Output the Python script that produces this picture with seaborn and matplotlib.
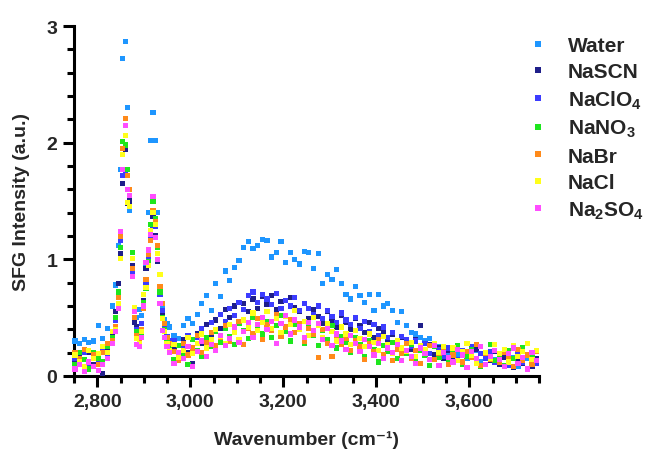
import numpy as np
import pandas as pd
import matplotlib
matplotlib.use("Agg")
import matplotlib.pyplot as plt
import seaborn as sns
from matplotlib.ticker import MultipleLocator, FixedLocator, FixedFormatter

# ---------------- data ----------------
series_names = ["Water", "NaSCN", "NaClO$_4$", "NaNO$_3$", "NaBr", "NaCl", "Na$_2$SO$_4$"]
series_colors = ["#1e96ff", "#1f1f8a", "#3c3cff", "#1ee61e", "#ff8a1a", "#ffff1a", "#ff4dff"]

# wavenumber grid (cm-1): coarse baseline, fine CH-stretch region, coarse OH region
wn_low = [2752, 2762, 2772, 2782, 2792, 2802, 2812, 2822, 2832]
wn_ch = [2840, 2845, 2850, 2855, 2860, 2865, 2870, 2875, 2880, 2885, 2890, 2895,
         2900, 2905, 2910, 2915, 2920, 2925, 2930, 2935, 2940, 2945, 2950, 2955]
wn_oh = list(range(2965, 3746, 10))
wavenumber = wn_low + wn_ch + wn_oh

water = ([0.30, 0.28, 0.31, 0.29, 0.30, 0.43, 0.32, 0.41, 0.60] +
         [0.78, 1.12, 1.77, 2.72, 2.87, 2.30, 1.42, 0.86, 0.59, 0.50, 0.57, 0.52,
          0.62, 0.95, 1.40, 2.02, 2.26, 2.02, 1.40, 0.76, 0.60, 0.48, 0.45, 0.42] +
         [0.35, 0.32, 0.43, 0.49, 0.45, 0.53, 0.62, 0.69, 0.56, 0.79,
          0.68, 0.90, 0.82, 0.93, 0.99, 1.10, 1.15, 1.09, 1.12, 1.17,
          1.16, 1.02, 1.06, 1.15, 0.97, 1.06, 1.00, 0.96, 1.07, 1.06,
          0.92, 1.05, 0.79, 0.87, 0.83, 0.91, 0.79, 0.70, 0.66, 0.77,
          0.69, 0.63, 0.70, 0.56, 0.70, 0.60, 0.62, 0.56, 0.46, 0.55,
          0.43, 0.37, 0.36, 0.33, 0.30, 0.32, 0.27, 0.25, 0.22, 0.20,
          0.24, 0.18, 0.21, 0.15, 0.19, 0.22, 0.12, 0.17, 0.20, 0.14,
          0.10, 0.18, 0.13, 0.16, 0.08, 0.12, 0.15, 0.10, 0.13])

nascn = ([0.12, 0.18, 0.05, 0.20, 0.10, 0.15, 0.02, 0.22, 0.35] +
         [0.55, 0.79, 1.05, 1.65, 1.94, 1.48, 1.50, 0.95, 0.46, 0.42, 0.33, 0.40,
          0.65, 0.92, 1.02, 1.25, 1.37, 1.20, 0.98, 0.62, 0.53, 0.39, 0.30, 0.25] +
         [0.25, 0.14, 0.31, 0.20, 0.11, 0.36, 0.28, 0.44, 0.33, 0.48,
          0.41, 0.57, 0.50, 0.60, 0.46, 0.62, 0.55, 0.66, 0.58, 0.68,
          0.61, 0.69, 0.57, 0.64, 0.52, 0.67, 0.59, 0.55, 0.62, 0.49,
          0.57, 0.51, 0.45, 0.55, 0.48, 0.42, 0.52, 0.46, 0.40, 0.49,
          0.43, 0.37, 0.46, 0.33, 0.41, 0.38, 0.30, 0.36, 0.27, 0.33,
          0.29, 0.23, 0.31, 0.43, 0.21, 0.27, 0.18, 0.24, 0.15, 0.22,
          0.17, 0.25, 0.12, 0.20, 0.16, 0.23, 0.09, 0.18, 0.13, 0.21,
          0.10, 0.16, 0.19, 0.07, 0.14, 0.11, 0.18, 0.08, 0.15])

naclo4 = ([0.15, 0.10, 0.20, 0.08, 0.17, 0.12, 0.22, 0.18, 0.30] +
          [0.48, 0.70, 1.16, 1.72, 1.76, 1.60, 1.45, 0.90, 0.50, 0.40, 0.36, 0.45,
           0.60, 0.80, 1.00, 1.18, 1.29, 1.28, 1.05, 0.70, 0.56, 0.44, 0.34, 0.30] +
          [0.30, 0.19, 0.26, 0.35, 0.23, 0.33, 0.41, 0.30, 0.46, 0.39,
           0.53, 0.47, 0.58, 0.52, 0.63, 0.57, 0.69, 0.72, 0.63, 0.70,
           0.66, 0.61, 0.71, 0.58, 0.65, 0.60, 0.67, 0.56, 0.62, 0.58,
           0.53, 0.60, 0.49, 0.56, 0.51, 0.46, 0.54, 0.48, 0.44, 0.50,
           0.41, 0.47, 0.38, 0.44, 0.35, 0.42, 0.33, 0.37, 0.29, 0.34,
           0.31, 0.25, 0.30, 0.22, 0.28, 0.19, 0.26, 0.23, 0.17, 0.24,
           0.20, 0.14, 0.22, 0.18, 0.25, 0.11, 0.19, 0.15, 0.21, 0.12,
           0.17, 0.22, 0.09, 0.15, 0.19, 0.12, 0.06, 0.16, 0.11])

nano3 = ([0.10, 0.20, 0.14, 0.06, 0.20, 0.15, 0.12, 0.25, 0.33] +
         [0.50, 0.72, 1.10, 2.01, 1.98, 1.77, 1.55, 1.06, 0.55, 0.38, 0.30, 0.36,
          0.63, 0.75, 0.98, 1.30, 1.50, 1.35, 1.10, 0.72, 0.50, 0.40, 0.30, 0.26] +
         [0.14, 0.26, 0.19, 0.10, 0.31, 0.22, 0.17, 0.33, 0.25, 0.38,
          0.29, 0.41, 0.34, 0.27, 0.45, 0.39, 0.32, 0.50, 0.41, 0.36,
          0.47, 0.33, 0.43, 0.52, 0.38, 0.30, 0.44, 0.40, 0.28, 0.42,
          0.35, 0.26, 0.39, 0.31, 0.43, 0.24, 0.34, 0.29, 0.20, 0.33,
          0.27, 0.17, 0.30, 0.23, 0.12, 0.26, 0.21, 0.29, 0.15, 0.24,
          0.19, 0.27, 0.13, 0.22, 0.18, 0.09, 0.25, 0.16, 0.21, 0.12,
          0.19, 0.26, 0.10, 0.17, 0.23, 0.14, 0.08, 0.20, 0.27, 0.13,
          0.17, 0.09, 0.22, 0.15, 0.11, 0.24, 0.06, 0.18, 0.13])

nabr = ([0.20, 0.15, 0.23, 0.12, 0.18, 0.10, 0.20, 0.28, 0.30] +
        [0.42, 0.67, 1.20, 1.95, 2.21, 1.72, 1.60, 0.92, 0.50, 0.35, 0.32, 0.40,
         0.58, 0.83, 1.04, 1.16, 1.42, 1.32, 1.12, 0.77, 0.62, 0.45, 0.33, 0.28] +
        [0.21, 0.13, 0.28, 0.18, 0.24, 0.35, 0.20, 0.29, 0.37, 0.26,
         0.33, 0.43, 0.30, 0.38, 0.47, 0.27, 0.41, 0.36, 0.49, 0.31,
         0.44, 0.39, 0.53, 0.34, 0.42, 0.48, 0.37, 0.45, 0.30, 0.41,
         0.36, 0.16, 0.40, 0.28, 0.17, 0.35, 0.27, 0.32, 0.22, 0.30,
         0.25, 0.14, 0.28, 0.21, 0.31, 0.18, 0.26, 0.13, 0.23, 0.19,
         0.28, 0.15, 0.22, 0.11, 0.20, 0.26, 0.14, 0.19, 0.24, 0.10,
         0.18, 0.23, 0.12, 0.21, 0.16, 0.27, 0.09, 0.19, 0.14, 0.22,
         0.12, 0.20, 0.16, 0.08, 0.23, 0.13, 0.18, 0.10, 0.21])

nacl = ([0.18, 0.12, 0.08, 0.22, 0.15, 0.19, 0.25, 0.20, 0.38] +
        [0.40, 0.62, 1.01, 1.90, 2.06, 1.49, 1.45, 1.01, 0.59, 0.32, 0.28, 0.38,
         0.70, 0.76, 0.95, 1.25, 1.40, 1.30, 1.05, 0.87, 0.49, 0.38, 0.28, 0.22] +
        [0.27, 0.16, 0.22, 0.33, 0.19, 0.28, 0.36, 0.24, 0.31, 0.40,
         0.34, 0.28, 0.44, 0.37, 0.31, 0.48, 0.42, 0.54, 0.39, 0.46,
         0.55, 0.41, 0.49, 0.37, 0.51, 0.44, 0.56, 0.40, 0.47, 0.35,
         0.50, 0.43, 0.33, 0.45, 0.38, 0.30, 0.42, 0.36, 0.27, 0.39,
         0.32, 0.25, 0.36, 0.29, 0.22, 0.34, 0.27, 0.19, 0.30, 0.24,
         0.21, 0.29, 0.17, 0.26, 0.23, 0.14, 0.28, 0.20, 0.25, 0.16,
         0.24, 0.13, 0.21, 0.28, 0.18, 0.11, 0.25, 0.20, 0.15, 0.27,
         0.19, 0.23, 0.12, 0.26, 0.17, 0.21, 0.28, 0.14, 0.22])

na2so4 = ([0.06, 0.10, 0.04, 0.12, 0.08, 0.05, 0.10, 0.15, 0.28] +
          [0.38, 0.58, 1.24, 1.77, 2.15, 1.60, 1.55, 0.85, 0.55, 0.27, 0.25, 0.33,
           0.60, 0.97, 1.08, 1.21, 1.54, 1.19, 1.00, 0.62, 0.39, 0.33, 0.25, 0.20] +
          [0.11, 0.20, 0.15, 0.25, 0.08, 0.21, 0.30, 0.17, 0.27, 0.22,
           0.35, 0.26, 0.32, 0.42, 0.29, 0.38, 0.46, 0.33, 0.44, 0.50,
           0.40, 0.47, 0.28, 0.45, 0.52, 0.36, 0.48, 0.42, 0.33, 0.46,
           0.39, 0.45, 0.31, 0.41, 0.26, 0.36, 0.30, 0.23, 0.35, 0.28,
           0.21, 0.31, 0.25, 0.18, 0.28, 0.15, 0.24, 0.20, 0.27, 0.13,
           0.22, 0.17, 0.11, 0.24, 0.19, 0.14, 0.26, 0.09, 0.20, 0.16,
           0.12, 0.23, 0.18, 0.07, 0.21, 0.15, 0.25, 0.10, 0.17, 0.22,
           0.14, 0.08, 0.19, 0.24, 0.11, 0.16, 0.06, 0.20, 0.13])

x_ticks = [2800, 3000, 3200, 3400, 3600]
x_tick_labels = ["2,800", "3,000", "3,200", "3,400", "3,600"]
y_ticks = [0, 1, 2, 3]
y_tick_labels = ["0", "1", "2", "3"]

# ---------------- build table ----------------
all_series = [water, nascn, naclo4, nano3, nabr, nacl, na2so4]
frames = []
for name, vals in zip(series_names, all_series):
    frames.append(pd.DataFrame({"Wavenumber": wavenumber, "Intensity": vals, "Sample": name}))
df = pd.concat(frames, ignore_index=True)

# ---------------- style ----------------
sns.set_theme(style="white")
plt.rcParams["font.family"] = ["Liberation Sans", "DejaVu Sans"]
plt.rcParams["font.weight"] = "bold"
plt.rcParams["mathtext.fontset"] = "custom"
plt.rcParams["mathtext.rm"] = "Liberation Sans:bold"
plt.rcParams["mathtext.bf"] = "Liberation Sans:bold"
plt.rcParams["mathtext.default"] = "rm"

fig = plt.figure(figsize=(6.54, 4.52), dpi=100)
ax = fig.add_axes([74 / 654, 1 - 377 / 452, 465 / 654, 350 / 452])

sns.scatterplot(data=df, x="Wavenumber", y="Intensity", hue="Sample",
                palette=dict(zip(series_names, series_colors)),
                hue_order=series_names, marker="s", s=14, linewidth=0,
                ax=ax, legend=True, clip_on=False, zorder=3)

ax.set_xlim(2750, 3750)
ax.set_ylim(0, 3)

ax.xaxis.set_major_locator(FixedLocator(x_ticks))
ax.xaxis.set_major_formatter(FixedFormatter(x_tick_labels))
ax.xaxis.set_minor_locator(MultipleLocator(50))
ax.yaxis.set_major_locator(FixedLocator(y_ticks))
ax.yaxis.set_major_formatter(FixedFormatter(y_tick_labels))
ax.yaxis.set_minor_locator(MultipleLocator(0.2))

for side in ["top", "right"]:
    ax.spines[side].set_visible(False)
for side in ["left", "bottom"]:
    ax.spines[side].set_linewidth(2.2)
    ax.spines[side].set_color("black")
    ax.spines[side].set_zorder(2)

ax.tick_params(axis="both", which="major", direction="out", length=8, width=2.2,
               color="black", labelsize=14, pad=4, bottom=True, left=True)
ax.tick_params(axis="both", which="minor", direction="out", length=5, width=2.2,
               color="black", bottom=True, left=True)
for lab in ax.get_xticklabels() + ax.get_yticklabels():
    lab.set_fontweight("bold")

ax.set_xlabel("Wavenumber (cm\u207b\u00b9)", fontsize=14, fontweight="bold", labelpad=15)
ax.set_ylabel("SFG Intensity (a.u.)", fontsize=14, fontweight="bold", labelpad=12)

handles, labels = ax.get_legend_handles_labels()
ax.get_legend().remove()
leg = fig.legend(handles, labels, loc="upper left",
                 bbox_to_anchor=(528 / 654, 1 - 37 / 452),
                 frameon=False, fontsize=15, handlelength=1.0, handletextpad=0.9,
                 labelspacing=0.35, borderpad=0, borderaxespad=0, markerscale=1.0)
for t in leg.get_texts():
    t.set_fontweight("bold")

fig.savefig("out.png", dpi=100)
